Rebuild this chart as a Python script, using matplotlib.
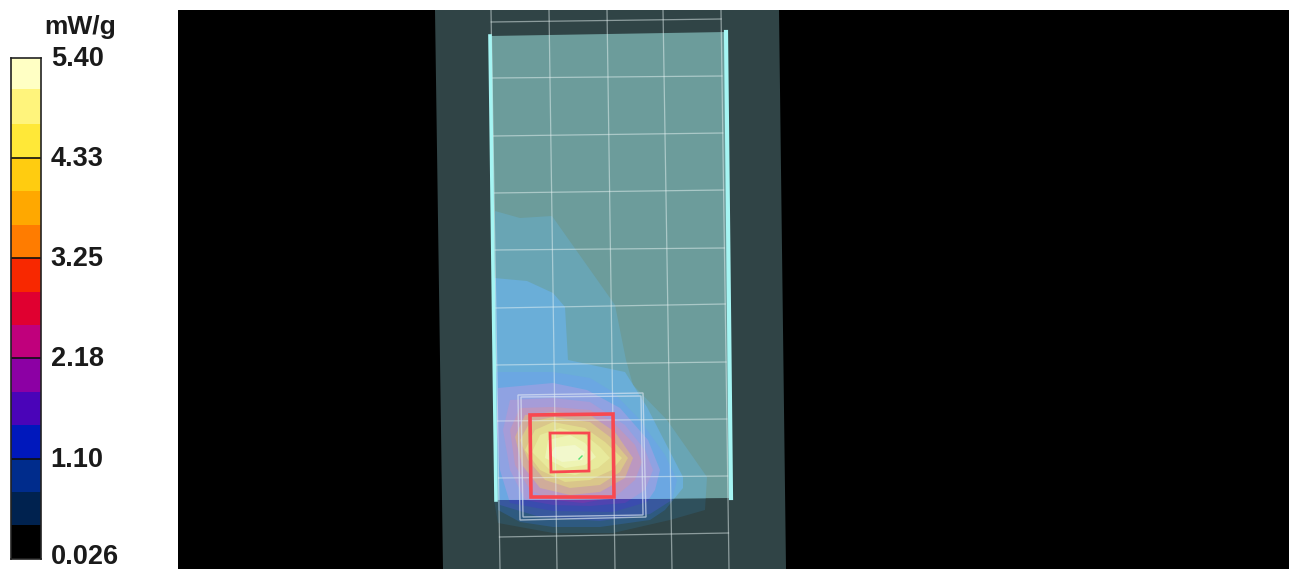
import numpy as np
import matplotlib
matplotlib.use('Agg')
import matplotlib.pyplot as plt
from matplotlib.patches import Polygon
from matplotlib.transforms import ScaledTranslation

plt.rcParams['font.family'] = ['Liberation Sans', 'DejaVu Sans']

# colour scale
scale_unit = 'mW/g'
scale_ticks = [0.026, 1.10, 2.18, 3.25, 4.33, 5.40]
scale_tick_labels = ['0.026', '1.10', '2.18', '3.25', '4.33', '5.40']
scale_levels = [0.026, 0.39, 0.74, 1.10, 1.46, 1.82, 2.18, 2.54, 2.89, 3.25,
                3.61, 3.97, 4.33, 4.69, 5.07, 5.40]
scale_colors = ['#000000', '#00224f', '#002c8c', '#0018bc', '#4a04b8', '#8c00a4',
                '#c0007c', '#e00030', '#f82800', '#ff7c00', '#ffa800', '#ffcc10',
                '#ffe838', '#fff47c', '#ffffc4']

# scene outlines, read in picture pixels
band_outline = [(435, 10), (779, 10), (786, 569), (443, 569)]
plate_outline = [(490, 36), (726, 32), (731, 498), (496, 500)]
outer_square = [(518, 395), (643, 393), (646, 517), (520, 520)]
inner_white_square = [(521, 397), (641, 396), (643, 515), (523, 517)]
peak_10g_square = [(530, 415), (613, 414), (614, 497), (531, 497)]
peak_1g_square = [(550, 433), (589, 433), (589, 471), (551, 472)]
peak_mark = [(579, 459), (582, 456)]

grid_x_top = [491, 549, 607, 663, 721]
grid_x_bottom = [500, 557, 615, 672, 729]
grid_y_left = [22, 78, 136, 193, 250, 308, 365, 421, 478, 537]
grid_y_right = [19, 76, 133, 190, 248, 304, 362, 419, 476, 533]

# contour shells of the SAR distribution, outermost first
contour_1 = [(495, 211), (520, 218), (552, 216), (615, 305), (626, 360), (633, 385), (667, 420),
             (707, 477), (705, 510), (670, 520), (613, 533), (553, 533), (498, 523), (494, 500)]
contour_2 = [(494, 278), (527, 281), (553, 293), (565, 307), (568, 360), (625, 372), (647, 407),
             (683, 477), (683, 488), (665, 510), (650, 520), (600, 527), (553, 527), (520, 522), (498, 510)]
contour_3 = [(495, 372), (553, 372), (590, 378), (613, 392), (640, 420), (665, 455), (677, 480),
             (672, 500), (650, 514), (600, 521), (540, 517), (500, 505)]
contour_4 = [(498, 388), (553, 383), (587, 390), (620, 408), (648, 440), (660, 470), (655, 490),
             (647, 502), (613, 512), (553, 511), (510, 503), (500, 470), (496, 420)]
contour_5 = [(510, 400), (553, 398), (590, 402), (625, 425), (645, 450), (653, 470), (645, 490),
             (625, 503), (590, 506), (553, 505), (525, 500), (510, 470), (503, 430)]
contour_6 = [(520, 408), (553, 407), (590, 410), (613, 422), (635, 445), (642, 462), (635, 480),
             (615, 497), (583, 503), (553, 500), (530, 490), (515, 465), (510, 430)]
contour_7 = [(525, 415), (553, 412), (590, 415), (615, 432), (633, 458), (625, 478), (600, 492),
             (570, 495), (540, 488), (522, 465), (515, 437)]
contour_8 = [(530, 422), (553, 417), (590, 422), (610, 437), (628, 458), (620, 472), (600, 485),
             (570, 488), (545, 480), (528, 460), (520, 440)]
contour_9 = [(535, 430), (553, 422), (585, 428), (605, 442), (622, 458), (612, 470), (590, 480),
             (565, 482), (540, 470), (525, 450)]
contour_10 = [(540, 435), (560, 428), (585, 435), (600, 447), (610, 458), (598, 468), (575, 475),
              (550, 470), (532, 452)]
contour_11 = [(548, 440), (570, 435), (585, 443), (596, 457), (585, 465), (565, 468), (545, 458)]
contour_12 = [(555, 447), (575, 445), (585, 452), (582, 460), (562, 462), (550, 455)]
contours = [contour_1, contour_2, contour_3, contour_4, contour_5, contour_6,
            contour_7, contour_8, contour_9, contour_10, contour_11, contour_12]

colors_on_plate = ['#69a5b4', '#6aaed8', '#6ba7e2', '#8fa2e2', '#a69cd8', '#bc98c0',
                   '#d0ac9a', '#dac68a', '#e2dc8e', '#e8ea9c', '#eef4b4', '#f2f8cc']
colors_below_plate = ['#2f505c', '#2e5a80', '#38589e', '#3a4cae', '#5044b0', '#6c3cac',
                      '#6c3cac', '#6c3cac', '#6c3cac', '#6c3cac', '#6c3cac', '#6c3cac']

W, H = 1289, 569
fig = plt.figure(figsize=(W / 100, H / 100), dpi=100, facecolor='white')


def px_axes(x0, y0, x1, y1):
    return fig.add_axes([x0 / W, 1 - y1 / H, (x1 - x0) / W, (y1 - y0) / H])


# colour bar
cax = px_axes(11, 58, 41, 559)
for i, c in enumerate(scale_colors):
    cax.bar(0, scale_levels[i + 1] - scale_levels[i], bottom=scale_levels[i], width=1, color=c)
cax.set_xlim(-0.5, 0.5)
cax.set_ylim(0.026, 5.40)
cax.hlines(scale_ticks[1:-1], -0.5, 0.5, color='#101010', lw=1.2)
cax.set_xticks([])
cax.yaxis.tick_right()
cax.set_yticks(scale_ticks)
cax.set_yticklabels(scale_tick_labels, fontsize=19.5, fontweight='bold', color='#1a1a1a')
cax.tick_params(axis='y', length=0, pad=7)
lift = ScaledTranslation(0, 1.5 / 72, fig.dpi_scale_trans)
for lbl in cax.get_yticklabels():
    lbl.set_transform(lbl.get_transform() + lift)
# bottom label sits close to the picture edge, keep it inside
bottom_lbl = cax.get_yticklabels()[0]
bottom_lbl.set_transform(bottom_lbl.get_transform() + ScaledTranslation(0, 2 / 72, fig.dpi_scale_trans))
for s in cax.spines.values():
    s.set_color('#222222')
    s.set_linewidth(1.2)
fig.text(80 / W, 1 - 27 / H, scale_unit, fontsize=19, fontweight='bold', color='#1a1a1a', ha='center', va='center')

# main view, data coordinates are picture pixels
ax = px_axes(178, 10, 1289, 569)
ax.set_xlim(178, 1289)
ax.set_ylim(569, 10)
ax.axis('off')
ax.add_patch(plt.Rectangle((178, 10), 1111, 559, color='black', zorder=0))

ax.add_patch(Polygon(band_outline, closed=True, fc='#304446', ec='none', zorder=1))
for shell, c in zip(contours, colors_below_plate):
    ax.add_patch(Polygon(shell, closed=True, fc=c, ec='none', zorder=2))

plate = Polygon(plate_outline, closed=True, fc='#6c9c9b', ec='none', zorder=3)
ax.add_patch(plate)
for shell, c in zip(contours, colors_on_plate):
    p = Polygon(shell, closed=True, fc=c, ec='none', zorder=4)
    ax.add_patch(p)
    p.set_clip_path(plate)

# measurement grid
for xt, xb in zip(grid_x_top, grid_x_bottom):
    ax.plot([xt, xb], [10, 569], color='#e8f4f4', alpha=0.5, lw=0.9, zorder=5)
for yl, yr in zip(grid_y_left, grid_y_right):
    xl = np.interp(yl, [10, 569], [grid_x_top[0], grid_x_bottom[0]])
    xr = np.interp(yr, [10, 569], [grid_x_top[-1], grid_x_bottom[-1]])
    ax.plot([xl, xr], [yl, yr], color='#e8f4f4', alpha=0.5, lw=0.9, zorder=5)

# plate side edges
ax.plot([plate_outline[0][0], plate_outline[3][0]], [plate_outline[0][1], plate_outline[3][1]],
        color='#a5f5f3', lw=2.6, zorder=6)
ax.plot([plate_outline[1][0], plate_outline[2][0]], [plate_outline[1][1], plate_outline[2][1]],
        color='#a5f5f3', lw=3.0, zorder=6)

# zoom scan boxes and peak cubes
for sq in (outer_square, inner_white_square):
    ax.add_patch(Polygon(sq, closed=True, fc='none', ec='#dfe8f4', alpha=0.65, lw=1.0, zorder=7))
ax.add_patch(Polygon(peak_10g_square, closed=True, fc='none', ec='#f84850', lw=2.6, zorder=8))
ax.add_patch(Polygon(peak_1g_square, closed=True, fc='none', ec='#f84850', lw=2.0, zorder=8))
ax.plot([m[0] for m in peak_mark], [m[1] for m in peak_mark], color='#50e070', lw=1.0, zorder=9)

fig.savefig('out.png', dpi=100, facecolor='white')
